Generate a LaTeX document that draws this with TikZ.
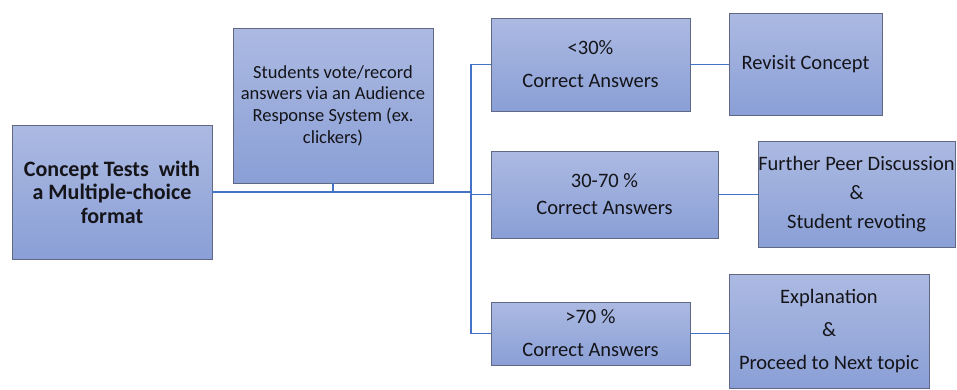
\documentclass[tikz,border=0pt]{standalone}
\usepackage{fontspec}
\setmainfont{Carlito}
\definecolor{boxtop}{RGB}{172,186,226}
\definecolor{boxbot}{RGB}{138,159,214}
\definecolor{boxline}{RGB}{96,104,134}
\definecolor{wire}{RGB}{68,114,196}
\definecolor{ink}{RGB}{20,20,25}
\begin{document}
\begin{tikzpicture}[x=1pt,y=-1pt,
  box/.style={draw=boxline,line width=0.9pt,top color=boxtop,bottom color=boxbot,
    align=center,inner sep=0pt,text=ink},
  wirestyle/.style={draw=wire,line width=1.8pt}]
\useasboundingbox (0,0) rectangle (957,389);
\fill[white] (0,0) rectangle (957,389);

% main stages
\node[box,minimum width=200,minimum height=134,
  font={\fontsize{22}{23.5}\selectfont\bfseries}] (A) at (112,192)
  {Concept Tests\ \ with\\a Multiple-choice\\format};
\node[box,minimum width=200,minimum height=155,
  font={\fontsize{18.5}{21.7}\selectfont}] (B) at (333,105.5)
  {Students vote/record\\answers via an Audience\\Response System (ex.\\clickers)};

% outcome bands
\node[box,minimum width=199,minimum height=93,
  font={\fontsize{20.5}{33}\selectfont}] (C1) at (590.5,64.5)
  {<30\%\\Correct Answers};
\node[box,minimum width=227,minimum height=87,
  font={\fontsize{20.5}{27}\selectfont}] (C2) at (604.5,194.5)
  {30-70 \%\\Correct Answers};
\node[box,minimum width=199,minimum height=63,
  font={\fontsize{20.5}{33}\selectfont}] (C3) at (590.5,333.5)
  {>70 \%\\Correct Answers};

% follow-up actions
\node[box,minimum width=153,minimum height=102,
  font={\fontsize{20.5}{30}\selectfont}] (D1) at (805.5,64)
  {Revisit Concept};
\node[box,minimum width=197,minimum height=106,
  font={\fontsize{20.5}{29}\selectfont}] (D2) at (856.5,194)
  {Further Peer Discussion\\\&\\Student revoting};
\node[box,minimum width=200,minimum height=114,
  font={\fontsize{20.5}{33}\selectfont}] (D3) at (829,331)
  {Explanation\\\&\\Proceed to Next topic};

% connectors
\coordinate (J) at (471,192);
\draw[wirestyle] (A.east) -- (J);
\draw[wirestyle] (B.south) -- (B.south |- J);
\draw[wirestyle] (C1.west) -| (J |- C3.west) -- (C3.west);
\draw[wirestyle] (C2.west) -- (C2.west -| J);
\draw[wirestyle] (C1.east) -- (C1.east -| D1.west);
\draw[wirestyle] (C2.east) -- (C2.east -| D2.west);
\draw[wirestyle] (C3.east) -- (C3.east -| D3.west);
\end{tikzpicture}
\end{document}
